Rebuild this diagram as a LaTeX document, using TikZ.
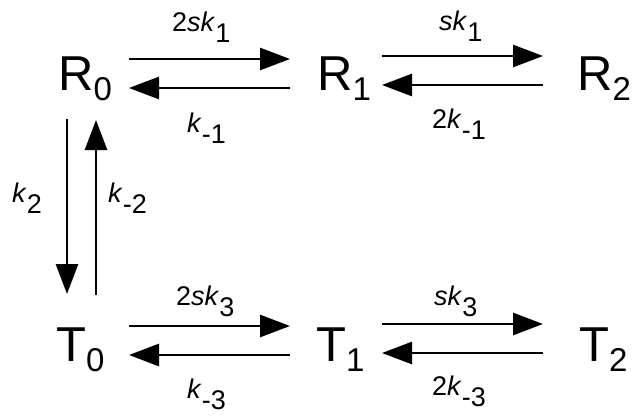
\documentclass[tikz,border=0pt]{standalone}
\usepackage{fontspec}
\setmainfont{Liberation Sans}
\usetikzlibrary{arrows.meta}
\newcommand{\spsub}[2]{#1\raisebox{-10.5pt}{\fontsize{33}{33}\selectfont #2}}
\newcommand{\lsub}[1]{\raisebox{-0.42em}{#1}}
\tikzset{
  species/.style={anchor=base west, inner sep=0pt, font=\fontsize{49}{49}\selectfont},
  rate/.style={anchor=base west, inner sep=0pt, font=\fontsize{27}{27}\selectfont},
  rxn/.style={line width=2.8pt, -{Triangle[length=30pt,width=22pt]}}
}
\begin{document}
\begin{tikzpicture}[x=1pt,y=-1pt]
\useasboundingbox (0,0) rectangle (641,416);
% species
\node[species] (R0) at (58,90) {\spsub{R}{0}};
\node[species] (R1) at (317,90) {\spsub{R}{1}};
\node[species] (R2) at (577,90) {\spsub{R}{2}};
\node[species] (T0) at (56,361) {\spsub{T}{0}};
\node[species] (T1) at (316,361) {\spsub{T}{1}};
\node[species] (T2) at (579,361) {\spsub{T}{2}};
% arrow end points
\coordinate (a1) at (129,59);  \coordinate (b1) at (290,59);
\coordinate (a2) at (290,88);  \coordinate (b2) at (129,88);
\coordinate (a3) at (382,56);  \coordinate (b3) at (543,56);
\coordinate (a4) at (543,85);  \coordinate (b4) at (382,85);
\coordinate (a5) at (129,326); \coordinate (b5) at (290,326);
\coordinate (a6) at (290,355); \coordinate (b6) at (129,355);
\coordinate (a7) at (382,324); \coordinate (b7) at (543,324);
\coordinate (a8) at (543,353); \coordinate (b8) at (382,353);
\coordinate (v1) at (67,119);  \coordinate (w1) at (67,294);
\coordinate (v2) at (96,295);  \coordinate (w2) at (96,120);
\draw[rxn] (a1) -- (b1);
\draw[rxn] (a2) -- (b2);
\draw[rxn] (a3) -- (b3);
\draw[rxn] (a4) -- (b4);
\draw[rxn] (a5) -- (b5);
\draw[rxn] (a6) -- (b6);
\draw[rxn] (a7) -- (b7);
\draw[rxn] (a8) -- (b8);
\draw[rxn] (v1) -- (w1);
\draw[rxn] (v2) -- (w2);
% rate labels
\node[rate] (l1) at (172,31) {2\textit{sk}\lsub{1}};
\node[rate] (l2) at (187,132) {\textit{k}\lsub{-1}};
\node[rate] (l3) at (439,30) {\textit{sk}\lsub{1}};
\node[rate] (l4) at (432,128) {2\textit{k}\lsub{-1}};
\node[rate] (l5) at (12,202) {\textit{k}\lsub{2}};
\node[rate] (l6) at (108,202) {\textit{k}\lsub{-2}};
\node[rate] (l7) at (176,305) {2\textit{sk}\lsub{3}};
\node[rate] (l8) at (187,398) {\textit{k}\lsub{-3}};
\node[rate] (l9) at (434,305) {\textit{sk}\lsub{3}};
\node[rate] (l10) at (432,395) {2\textit{k}\lsub{-3}};
\end{tikzpicture}
\end{document}
